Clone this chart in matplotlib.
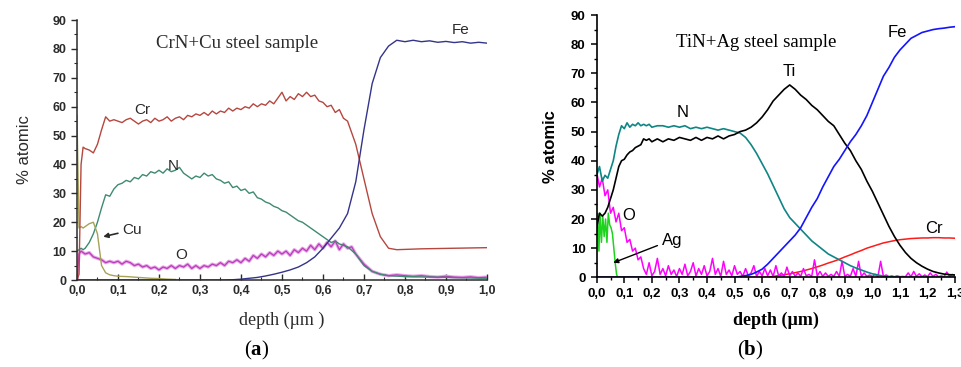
import matplotlib
matplotlib.use("Agg")
from matplotlib import pyplot as plt
from matplotlib.ticker import MultipleLocator, FuncFormatter

# ---------- panel (a): CrN+Cu, (depth um, % atomic) ----------
cr_a = [(0.00, 0), (0.005, 2), (0.01, 40), (0.015, 46), (0.02, 45.5), (0.03, 45), (0.04, 44),
        (0.05, 47), (0.06, 52), (0.07, 56.5), (0.08, 55), (0.09, 55.5),
        (0.10, 55), (0.11, 54.5), (0.12, 55.5), (0.13, 56), (0.14, 55), (0.15, 54), (0.16, 55),
        (0.17, 55.5), (0.18, 54.5), (0.19, 56), (0.20, 55), (0.21, 55.5), (0.22, 56.5), (0.23, 55),
        (0.24, 56), (0.25, 56.5), (0.26, 55.5), (0.27, 57), (0.28, 56.5), (0.29, 57.5), (0.30, 57),
        (0.31, 58), (0.32, 57), (0.33, 58.5), (0.34, 57.5), (0.35, 58.5), (0.36, 58), (0.37, 59.5),
        (0.38, 58.5), (0.39, 59.5), (0.40, 59), (0.41, 60), (0.42, 59.5), (0.43, 61), (0.44, 60),
        (0.45, 61), (0.46, 60.5), (0.47, 62), (0.48, 61), (0.49, 63), (0.50, 65), (0.51, 62),
        (0.52, 63.5), (0.53, 62.5), (0.54, 64.5), (0.55, 63.5), (0.56, 65), (0.57, 63.5),
        (0.58, 64), (0.59, 62), (0.60, 61.5), (0.61, 60), (0.62, 60.5), (0.63, 58), (0.64, 59),
        (0.65, 56), (0.66, 55), (0.68, 47),
        (0.70, 35), (0.72, 23), (0.74, 15), (0.76, 11), (0.78, 10.5), (0.80, 10.6), (0.84, 10.8),
        (0.88, 10.9), (0.92, 11), (0.96, 11.1), (1.00, 11.2)]
fe_a = [(0.00, 0), (0.36, 0), (0.38, 0.1), (0.40, 0.3), (0.42, 0.6), (0.44, 0.9), (0.46, 1.4),
        (0.48, 2), (0.50, 2.7), (0.52, 3.5), (0.54, 4.5), (0.56, 6), (0.58, 8), (0.60, 11),
        (0.62, 14.5), (0.64, 18), (0.66, 23), (0.68, 34), (0.70, 52), (0.72, 68), (0.74, 77),
        (0.76, 81), (0.78, 83), (0.80, 82.5), (0.82, 83), (0.84, 82.5), (0.86, 82.8), (0.88, 82.3),
        (0.90, 82.6), (0.92, 82.2), (0.94, 82.5), (0.96, 82), (0.98, 82.3), (1.00, 82)]
n_a = [(0.00, 10), (0.005, 10.5), (0.01, 11), (0.015, 10.5), (0.02, 11), (0.03, 13), (0.04, 16),
       (0.05, 20), (0.06, 25), (0.07, 29.5), (0.08, 29), (0.09, 31.5),
       (0.10, 33), (0.11, 33.5), (0.12, 34.5), (0.13, 34), (0.14, 35.5), (0.15, 35), (0.16, 36.5),
       (0.17, 36), (0.18, 37.5), (0.19, 37), (0.20, 38), (0.21, 37), (0.22, 38.5), (0.23, 37.5),
       (0.24, 38), (0.25, 39), (0.26, 37), (0.27, 36), (0.28, 35), (0.29, 36), (0.30, 35.5),
       (0.31, 37), (0.32, 36), (0.33, 36.5), (0.34, 35), (0.35, 34.5), (0.36, 33.5), (0.37, 34),
       (0.38, 32), (0.39, 32.5), (0.40, 31), (0.41, 31.5), (0.42, 30), (0.43, 30.5), (0.44, 28.5),
       (0.45, 28), (0.46, 27), (0.47, 26.5), (0.48, 25.5), (0.49, 25), (0.50, 24), (0.51, 23.5),
       (0.52, 22.5), (0.53, 21.5), (0.54, 20.5), (0.55, 20), (0.56, 19), (0.57, 18), (0.58, 17),
       (0.59, 16), (0.60, 15), (0.61, 14), (0.62, 13), (0.63, 13.5), (0.64, 12.5), (0.65, 12),
       (0.66, 11.5), (0.68, 9),
       (0.70, 5), (0.72, 3), (0.74, 2), (0.76, 1.5), (0.80, 1.2), (0.90, 0.9), (1.00, 0.6)]
o_a = [(0.00, 0), (0.005, 9), (0.01, 10), (0.015, 9.5), (0.02, 9), (0.03, 9.5), (0.04, 8),
       (0.05, 7.5), (0.06, 7), (0.07, 6), (0.08, 6.5), (0.09, 6),
       (0.10, 6.5), (0.11, 5.5), (0.12, 6.5), (0.13, 6), (0.14, 5), (0.15, 5.5), (0.16, 4.5),
       (0.17, 5), (0.18, 4), (0.19, 4.5), (0.20, 3.5), (0.21, 4.5), (0.22, 4), (0.23, 5),
       (0.24, 4), (0.25, 5), (0.26, 4.5), (0.27, 5.5), (0.28, 4), (0.29, 5), (0.30, 4), (0.31, 5),
       (0.32, 4.5), (0.33, 5.5), (0.34, 5), (0.35, 6), (0.36, 5), (0.37, 6.5), (0.38, 6),
       (0.39, 7), (0.40, 6), (0.41, 7.5), (0.42, 6.5), (0.43, 8.5), (0.44, 7.5), (0.45, 9),
       (0.46, 8), (0.47, 9.5), (0.48, 8.5), (0.49, 10), (0.50, 9), (0.51, 10), (0.52, 8.5),
       (0.53, 10.5), (0.54, 9.5), (0.55, 11), (0.56, 10), (0.57, 12), (0.58, 10.5), (0.59, 12.5),
       (0.60, 11), (0.61, 13), (0.62, 11.5), (0.63, 13.5), (0.64, 10.5), (0.65, 12.5), (0.66, 11),
       (0.67, 11.5), (0.68, 9), (0.70, 5.5), (0.72, 3),
       (0.74, 2), (0.76, 1.5), (0.78, 1.8), (0.80, 1.5), (0.82, 1.3), (0.84, 1.5), (0.86, 1.2),
       (0.88, 1.0), (0.90, 1.3), (0.92, 1.0), (0.94, 0.9), (0.96, 1.1), (0.98, 0.8), (1.00, 1.0)]
cu_a = [(0.00, 57), (0.005, 18), (0.01, 18.5), (0.015, 18), (0.02, 18.5), (0.03, 19.5),
        (0.04, 20), (0.05, 16), (0.06, 5), (0.07, 2.5), (0.08, 1.8), (0.09, 1.5), (0.10, 1.3),
        (0.12, 1.2), (0.14, 1), (0.16, 0.8), (0.18, 0.6), (0.20, 0.5), (0.22, 0.3), (0.24, 0.2)]

# ---------- panel (b): TiN+Ag ----------
ti_b = [(0.00, 17), (0.01, 22), (0.02, 21), (0.03, 22), (0.04, 24), (0.05, 27), (0.06, 30),
        (0.07, 34), (0.08, 38), (0.09, 40), (0.10, 40.5), (0.11, 42), (0.12, 43), (0.13, 43.5),
        (0.14, 44.5), (0.15, 45), (0.16, 45.5), (0.17, 47.5), (0.18, 47), (0.19, 47.5), (0.20, 46.5),
        (0.22, 47.5), (0.24, 46.5), (0.26, 47.5), (0.28, 47), (0.30, 48), (0.32, 47.5), (0.34, 47),
        (0.36, 48), (0.38, 47), (0.40, 48), (0.42, 47.5), (0.44, 48.5), (0.46, 47.5), (0.48, 48.5),
        (0.50, 49), (0.52, 50), (0.54, 50.5), (0.56, 51.5), (0.58, 53), (0.60, 55), (0.62, 57.5),
        (0.64, 60.5), (0.66, 62.5), (0.68, 64.5), (0.70, 66), (0.72, 64.5), (0.74, 62.5), (0.76, 61),
        (0.78, 59), (0.80, 57.5), (0.82, 55.5), (0.84, 53.5), (0.86, 52), (0.88, 49), (0.90, 46),
        (0.92, 43.5), (0.94, 40), (0.96, 37), (0.98, 33), (1.00, 29.5), (1.02, 25.5), (1.04, 21.5),
        (1.06, 17.5), (1.08, 14), (1.10, 11), (1.12, 8.5), (1.14, 6.5), (1.16, 5), (1.18, 3.8),
        (1.20, 2.8), (1.22, 2), (1.24, 1.5), (1.26, 1.1), (1.28, 0.9), (1.30, 0.8)]
n_b = [(0.00, 35), (0.01, 38), (0.02, 33), (0.03, 35), (0.04, 34), (0.05, 37), (0.06, 40),
       (0.07, 45), (0.08, 49), (0.09, 52), (0.10, 51), (0.11, 53), (0.12, 51.5), (0.13, 52.5),
       (0.14, 52), (0.15, 53), (0.16, 52), (0.17, 52.5), (0.18, 52), (0.19, 52.5), (0.20, 51.5),
       (0.22, 52), (0.24, 52), (0.26, 51.5), (0.28, 52), (0.30, 51.5), (0.32, 52), (0.34, 51),
       (0.36, 51.5), (0.38, 51), (0.40, 51.5), (0.42, 51), (0.44, 50.5), (0.46, 51), (0.48, 50.5),
       (0.50, 50), (0.52, 49.5), (0.54, 48), (0.56, 45.5), (0.58, 42.5), (0.60, 39), (0.62, 35.5),
       (0.64, 31.5), (0.66, 27.5), (0.68, 23.5), (0.70, 20.5), (0.72, 18.5), (0.74, 16.5),
       (0.76, 14.5), (0.78, 12.5), (0.80, 11), (0.82, 9.5), (0.84, 8), (0.86, 7), (0.88, 6),
       (0.90, 5), (0.92, 4), (0.94, 3.2), (0.96, 2.5), (0.98, 1.8), (1.00, 1.2), (1.02, 0.8),
       (1.04, 0.4), (1.06, 0.2), (1.08, 0.1), (1.10, 0), (1.30, 0)]
fe_b = [(0.00, 0), (0.50, 0), (0.52, 0.3), (0.54, 0.6), (0.56, 1), (0.58, 1.8), (0.60, 2.8),
        (0.62, 4.5), (0.64, 6.5), (0.66, 8.5), (0.68, 10.5), (0.70, 12.5), (0.72, 14.5), (0.74, 17),
        (0.76, 20.5), (0.78, 24), (0.80, 27), (0.82, 31), (0.84, 34.5), (0.86, 38), (0.88, 40.5),
        (0.90, 43.5), (0.92, 46.5), (0.94, 49), (0.96, 52), (0.98, 55.5), (1.00, 60), (1.02, 64.5),
        (1.04, 69), (1.06, 72), (1.08, 75.5), (1.10, 78), (1.12, 80), (1.14, 82), (1.16, 83),
        (1.18, 84), (1.20, 84.5), (1.22, 85), (1.24, 85.3), (1.26, 85.5), (1.28, 85.8), (1.30, 86)]
cr_b = [(0.00, 0), (0.62, 0), (0.64, 0.3), (0.66, 0.6), (0.68, 0.9), (0.70, 1.2), (0.72, 1.6),
        (0.74, 2), (0.76, 2.5), (0.78, 3), (0.80, 3.6), (0.82, 4.2), (0.84, 4.9), (0.86, 5.5),
        (0.88, 6.2), (0.90, 7), (0.92, 7.7), (0.94, 8.5), (0.96, 9.2), (0.98, 10), (1.00, 10.6),
        (1.02, 11.2), (1.04, 11.8), (1.06, 12.2), (1.08, 12.6), (1.10, 12.9), (1.12, 13.1),
        (1.14, 13.3), (1.16, 13.4), (1.18, 13.5), (1.20, 13.5), (1.22, 13.6), (1.24, 13.6),
        (1.26, 13.5), (1.28, 13.5), (1.30, 13.4)]
ag_b = [(0.00, 16), (0.003, 22), (0.008, 9), (0.012, 22), (0.017, 12), (0.022, 21), (0.027, 14),
        (0.032, 20), (0.037, 12), (0.042, 22), (0.047, 18), (0.052, 17), (0.057, 15), (0.062, 10),
        (0.067, 5), (0.072, 1), (0.076, 0), (0.17, 0)]
o_b = [(0.00, 36), (0.01, 31), (0.02, 34), (0.03, 28), (0.04, 30), (0.05, 22), (0.06, 24),
       (0.07, 19), (0.08, 22), (0.09, 16), (0.10, 17), (0.11, 12), (0.12, 13), (0.13, 9),
       (0.14, 10), (0.15, 6), (0.16, 7), (0.17, 3), (0.18, 1), (0.19, 5), (0.20, 0.5), (0.21, 2),
       (0.22, 6.5), (0.23, 1), (0.24, 3), (0.25, 0.5), (0.26, 4), (0.27, 1), (0.28, 2.5),
       (0.29, 0.3), (0.30, 3), (0.31, 1), (0.32, 4.5), (0.33, 0.5), (0.34, 2), (0.35, 5),
       (0.36, 0.5), (0.37, 3), (0.38, 1), (0.39, 4), (0.40, 0.5), (0.41, 2), (0.42, 6.5), (0.43, 1),
       (0.44, 3), (0.45, 0.3), (0.46, 5.5), (0.47, 1), (0.48, 2.5), (0.49, 0.5), (0.50, 4),
       (0.51, 1), (0.52, 2), (0.53, 0.3), (0.54, 3), (0.55, 0.5), (0.56, 1.5), (0.57, 4),
       (0.58, 0.3), (0.59, 2), (0.60, 0.5), (0.61, 3), (0.62, 0.5), (0.63, 2.5), (0.64, 0.3),
       (0.65, 4), (0.66, 0.5), (0.67, 1.5), (0.68, 0.3), (0.69, 3.5), (0.70, 0.5), (0.71, 2),
       (0.72, 0.3), (0.73, 1.5), (0.74, 0.3), (0.75, 3), (0.76, 0.5), (0.77, 1), (0.78, 0.3),
       (0.79, 6), (0.80, 0.5), (0.81, 2), (0.82, 0.3), (0.83, 1.5), (0.84, 0.3), (0.85, 1),
       (0.86, 0.3), (0.87, 2), (0.88, 0.3), (0.89, 5.5), (0.90, 0.3), (0.91, 1), (0.92, 0.3),
       (0.93, 3), (0.94, 0.3), (0.95, 5.5), (0.96, 0.3), (0.97, 1.5), (0.98, 0.3), (0.99, 0.8),
       (1.00, 0.3), (1.01, 1), (1.02, 0.2), (1.03, 5.5), (1.04, 0.3), (1.05, 0.8), (1.06, 0.2),
       (1.07, 0.5), (1.08, 0.2), (1.09, 0.5), (1.10, 0.2), (1.11, 0.3), (1.12, 0.2), (1.13, 1.5),
       (1.14, 0.2), (1.15, 2), (1.16, 0.3), (1.17, 1.2), (1.18, 0.2), (1.19, 0.8), (1.20, 0.2),
       (1.21, 1.5), (1.22, 0.3), (1.23, 1), (1.24, 0.2), (1.25, 0.5), (1.26, 0.2), (1.27, 1.8),
       (1.28, 0.3), (1.29, 1), (1.30, 0.5)]

plt.rcParams['mathtext.fontset'] = 'custom'
plt.rcParams['mathtext.rm'] = 'Liberation Serif'
plt.rcParams['mathtext.bf'] = 'Liberation Serif:bold'

comma = FuncFormatter(lambda v, p: ("%.1f" % v).replace(".", ","))
sans = 'Liberation Sans'
serif = 'Liberation Serif'

fig = plt.figure(figsize=(9.62, 3.67), dpi=100)
ax1 = fig.add_axes([0.080, 0.237, 0.4262, 0.7084])
ax2 = fig.add_axes([0.6203, 0.2444, 0.3725, 0.7147])


def draw(ax, pairs, color, lw=1.0):
    x, y = zip(*pairs)
    ax.plot(x, y, color=color, lw=lw)


# panel (a)
ink = '#2b2b2b'
draw(ax1, o_a, '#e8a5e8', 2.4)
draw(ax1, o_a, '#b83cb8', 0.9)
draw(ax1, n_a, '#3f8a70')
draw(ax1, cu_a, '#a6a25a')
draw(ax1, cr_a, '#b5473f')
draw(ax1, fe_a, '#34348a')

ax1.set_xlim(0, 1.0)
ax1.set_ylim(0, 90)
ax1.xaxis.set_major_locator(MultipleLocator(0.1))
ax1.xaxis.set_minor_locator(MultipleLocator(0.05))
ax1.yaxis.set_major_locator(MultipleLocator(10))
ax1.yaxis.set_minor_locator(MultipleLocator(5))
ax1.xaxis.set_major_formatter(comma)
ax1.tick_params(axis='x', which='both', direction='in', colors=ink)
ax1.tick_params(axis='y', which='both', direction='out', colors=ink)
ax1.tick_params(which='major', length=4, width=1)
ax1.tick_params(which='minor', length=2.5, width=0.8)
for lab in ax1.get_xticklabels() + ax1.get_yticklabels():
    lab.set_fontweight('bold')
    lab.set_fontsize(9)
    lab.set_family(sans)
ax1.spines['right'].set_visible(False)
ax1.spines['top'].set_visible(False)
for s in ('left', 'bottom'):
    ax1.spines[s].set_color(ink)
    ax1.spines[s].set_linewidth(1.1)
ax1.set_xlabel('depth (µm )', fontsize=13, family=serif, color=ink, labelpad=11)
ax1.set_ylabel('% atomic', fontsize=12, family=sans, color=ink, labelpad=15)
ax1.text(0.39, 82, 'CrN+Cu steel sample', fontsize=13.5, family=serif, color=ink, ha='center', va='center')
ax1.text(0.16, 58.8, 'Cr', fontsize=11, family=sans, color=ink, ha='center', va='center')
ax1.text(0.235, 39.5, 'N', fontsize=11, family=sans, color=ink, ha='center', va='center')
ax1.text(0.255, 8.8, 'O', fontsize=11, family=sans, color=ink, ha='center', va='center')
ax1.text(0.935, 86.5, 'Fe', fontsize=11, family=sans, color=ink, ha='center', va='center')
ax1.annotate('Cu', xy=(0.064, 15), xytext=(0.11, 17.3), fontsize=11, family=sans, color=ink,
             va='center', arrowprops=dict(arrowstyle='-|>', color=ink, lw=1.2, mutation_scale=7,
                                          shrinkA=1, shrinkB=0))

# panel (b)
draw(ax2, cr_b, '#ff1a1a', 1.1)
draw(ax2, o_b, '#ff00ff', 1.1)
draw(ax2, ag_b, '#1ed31e', 1.1)
draw(ax2, n_b, '#0f8585', 1.2)
draw(ax2, ti_b, 'black', 1.2)
draw(ax2, fe_b, '#1414ff', 1.2)

ax2.set_xlim(0, 1.3)
ax2.set_ylim(0, 90)
ax2.xaxis.set_major_locator(MultipleLocator(0.1))
ax2.xaxis.set_minor_locator(MultipleLocator(0.05))
ax2.yaxis.set_major_locator(MultipleLocator(10))
ax2.yaxis.set_minor_locator(MultipleLocator(5))
ax2.xaxis.set_major_formatter(comma)
ax2.tick_params(which='both', direction='out', colors='black')
ax2.tick_params(which='major', length=4.5, width=1.1)
ax2.tick_params(which='minor', length=2.5, width=1)
for lab in ax2.get_xticklabels() + ax2.get_yticklabels():
    lab.set_fontweight('bold')
    lab.set_fontsize(9.5)
    lab.set_family(sans)
ax2.spines['right'].set_visible(False)
ax2.spines['top'].set_visible(False)
for s in ('left', 'bottom'):
    ax2.spines[s].set_linewidth(1.2)
ax2.set_xlabel('depth (µm)', fontsize=13, family=serif, fontweight='bold', labelpad=8)
ax2.set_ylabel('% atomic', fontsize=12, family=sans, fontweight='bold', labelpad=9)
ax2.text(0.58, 80.5, 'TiN+Ag steel sample', fontsize=13.5, family=serif, ha='center', va='center')
ax2.text(0.313, 56.5, 'N', fontsize=12, family=sans, ha='center', va='center')
ax2.text(0.70, 70.5, 'Ti', fontsize=12, family=sans, ha='center', va='center')
ax2.text(1.09, 84, 'Fe', fontsize=12, family=sans, ha='center', va='center')
ax2.text(1.225, 16.8, 'Cr', fontsize=12, family=sans, ha='center', va='center')
ax2.text(0.115, 21.3, 'O', fontsize=12, family=sans, ha='center', va='center')
ax2.annotate('Ag', xy=(0.06, 5), xytext=(0.235, 12.8), fontsize=12, family=sans,
             va='center', arrowprops=dict(arrowstyle='-|>', color='black', lw=1, mutation_scale=7,
                                          shrinkA=1, shrinkB=0))

fig.text(0.267, 0.046, r'($\mathbf{a}$)', fontsize=15, family=serif, ha='center', va='center')
fig.text(0.780, 0.046, r'($\mathbf{b}$)', fontsize=15, family=serif, ha='center', va='center')

fig.savefig('out.png', dpi=100, facecolor='white')
